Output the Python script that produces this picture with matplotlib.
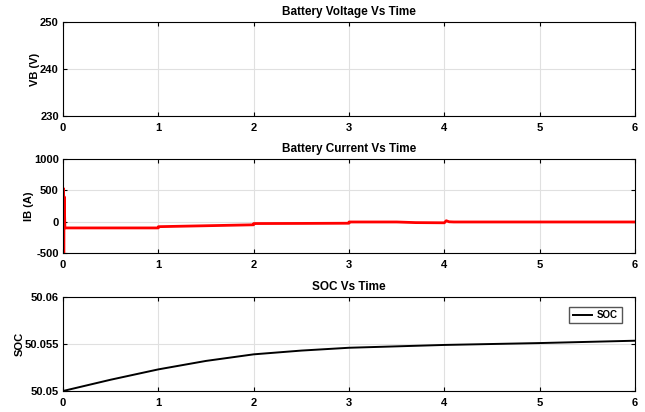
import matplotlib
matplotlib.use("Agg")
import matplotlib.pyplot as plt

plt.rcParams["font.family"] = ["Liberation Sans", "DejaVu Sans"]
plt.rcParams["font.weight"] = "bold"
plt.rcParams["axes.unicode_minus"] = False

# battery current (A)
T_IB = [0, 0.004, 0.008, 0.012, 0.02, 1.0, 1.0, 1.5, 2.0, 2.0, 2.5, 3.0, 3.0,
        3.5, 3.7, 4.0, 4.02, 4.05, 4.1, 5.0, 6.0]
IB = [0, 530, -520, 400, -100, -100, -80, -65, -50, -30, -28, -25, -5,
      -5, -15, -18, 15, -2, -5, -5, -5]

# state of charge
T_SOC = [0, 0.5, 1, 1.5, 2, 2.5, 3, 4, 5, 6]
SOC = [50.05, 50.0512, 50.0523, 50.0532, 50.0539, 50.0543, 50.0546,
       50.0549, 50.0551, 50.05535]

XTICKS = [0, 1, 2, 3, 4, 5, 6]
GRID = "#e0e0e0"


def style(ax, title, ylabel, ylim, yticks, yticklabels=None):
    ax.set_xlim(0, 6)
    ax.set_ylim(*ylim)
    ax.set_xticks(XTICKS)
    ax.set_yticks(yticks)
    if yticklabels:
        ax.set_yticklabels(yticklabels)
    ax.grid(True, color=GRID, linewidth=0.8)
    ax.set_axisbelow(True)
    ax.tick_params(direction="in", top=True, right=True, length=3,
                   labelsize=8, width=0.8)
    ax.tick_params(axis="x", pad=5)
    ax.tick_params(axis="y", pad=3)
    for s in ax.spines.values():
        s.set_linewidth(0.8)
    ax.set_title(title, fontsize=8.5, fontweight="bold", pad=5)
    ax.set_ylabel(ylabel, fontsize=8, fontweight="bold", labelpad=0)


fig = plt.figure(figsize=(6.45, 4.12), dpi=100)
W, H = 645, 412
L, R = 63, 635


def add_axes(top, bottom):
    return fig.add_axes([L / W, 1 - bottom / H, (R - L) / W, (bottom - top) / H])


ax1 = add_axes(22, 116)
ax2 = add_axes(159, 253)
ax3 = add_axes(297, 391)

# voltage trace lies outside the 230-250 window, so the panel shows nothing
style(ax1, "Battery Voltage Vs Time", "VB (V)", (230, 250), [230, 240, 250])

ax2.plot(T_IB, IB, color="red", linewidth=2)
style(ax2, "Battery Current Vs Time", "IB (A)", (-500, 1000), [-500, 0, 500, 1000])

ax3.plot(T_SOC, SOC, color="black", linewidth=1.4, label="SOC")
style(ax3, "SOC Vs Time", "SOC", (50.05, 50.06), [50.05, 50.055, 50.06],
      ["50.05", "50.055", "50.06"])
leg = ax3.legend(loc="upper right", fontsize=7, fancybox=False, framealpha=1,
                 edgecolor="#555555", handlelength=2.0, borderpad=0.35,
                 handletextpad=0.5, bbox_to_anchor=(0.985, 0.95))
leg.get_frame().set_linewidth(1.0)
for t in leg.get_texts():
    t.set_fontweight("bold")

fig.savefig("out.png", dpi=100, facecolor="white")
